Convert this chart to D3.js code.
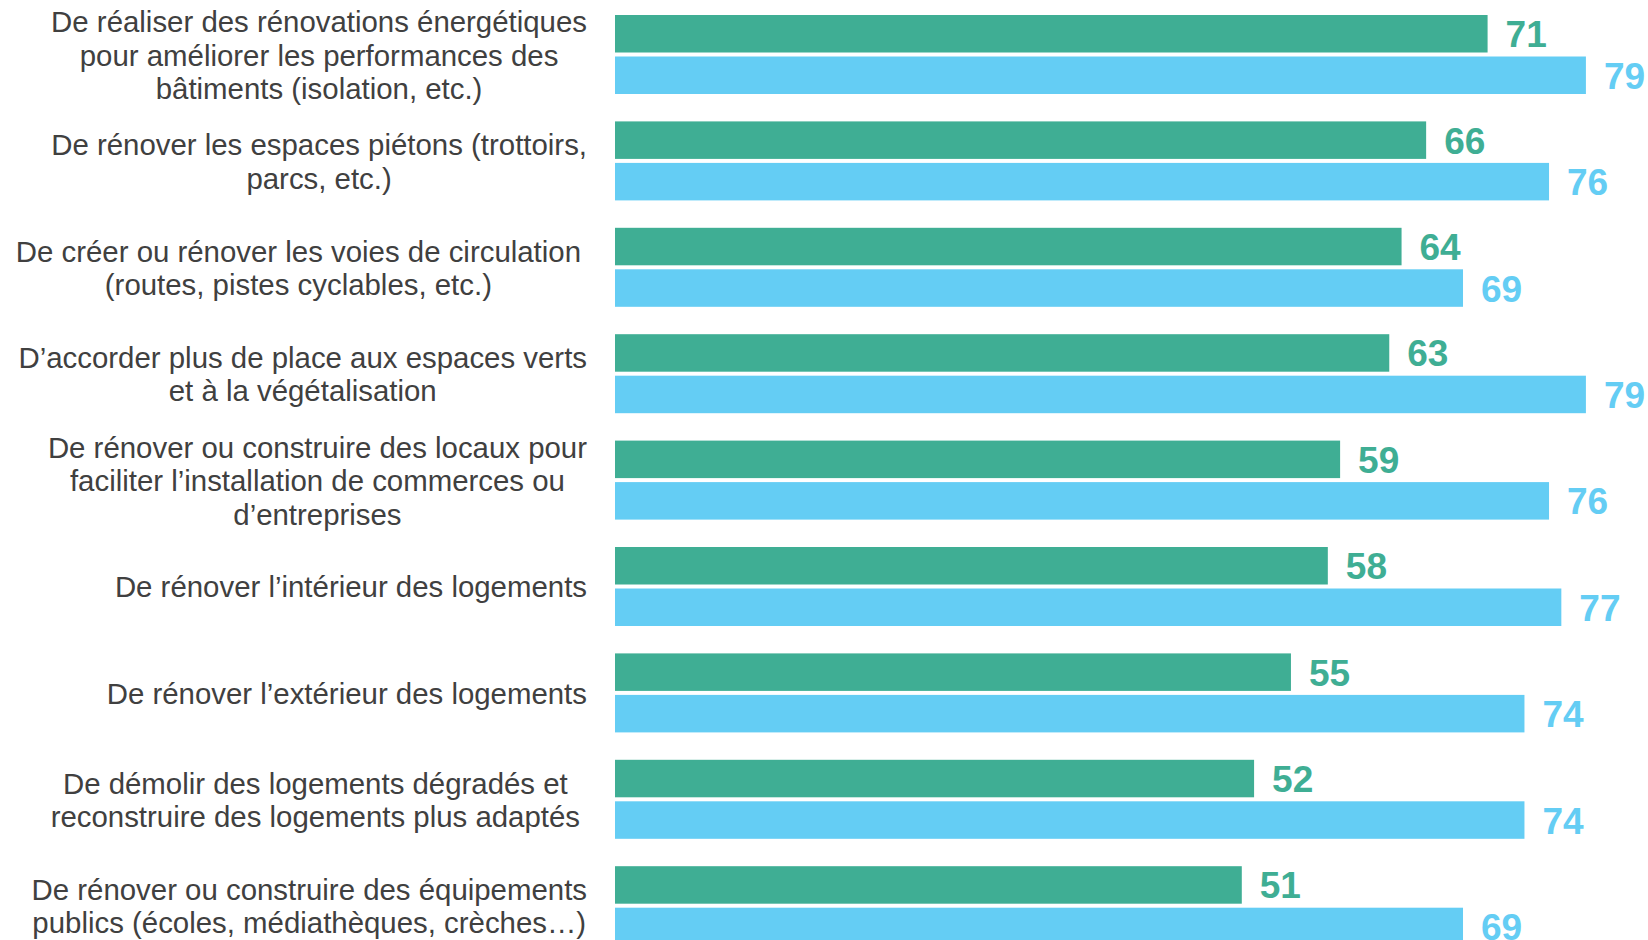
<!DOCTYPE html>
<html>
<head>
<meta charset="utf-8">
<script src="https://cdn.jsdelivr.net/npm/d3@7"></script>
<style>
    body { margin: 0; background: #ffffff; }
</style>
</head>
<body>
<div id="chart"></div>
<script>
"use strict"

// categories (line breaks as in the original slide)
let categories = [
    "De réaliser des rénovations énergétiques\npour améliorer les performances des\nbâtiments (isolation, etc.)",
    "De rénover les espaces piétons (trottoirs,\nparcs, etc.)",
    "De créer ou rénover les voies de circulation\n(routes, pistes cyclables, etc.)",
    "D’accorder plus de place aux espaces verts\net à la végétalisation",
    "De rénover ou construire des locaux pour\nfaciliter l’installation de commerces ou\nd’entreprises",
    "De rénover l’intérieur des logements",
    "De rénover l’extérieur des logements",
    "De démolir des logements dégradés et\nreconstruire des logements plus adaptés",
    "De rénover ou construire des équipements\npublics (écoles, médiathèques, crèches…)"
];

let series1 = [71, 66, 64, 63, 59, 58, 55, 52, 51];
let series2 = [79, 76, 69, 79, 76, 77, 74, 74, 69];

let seriesKeys = ["series1", "series2"];
let colors = { series1: "#3fae94", series2: "#64cdf4" };

let width = 1648,
    height = 940;

let svg = d3.select("#chart")
    .append("svg")
    .attr("width", width)
    .attr("height", height)
    .style("display", "block");

svg.append("rect")
    .attr("width", width)
    .attr("height", height)
    .attr("fill", "#ffffff");

// scales
let x = d3.scaleLinear()
    .domain([0, 100])
    .range([615, 615 + 1229]);

let y = d3.scaleBand()
    .domain(d3.range(categories.length))
    .range([15, 15 + 8 * 106.4 + 79])
    .paddingInner(0.2575)
    .paddingOuter(0);

let ySub = d3.scaleBand()
    .domain(seriesKeys)
    .range([0, y.bandwidth()])
    .paddingInner(0.0964);

// build rows from the arrays
let rows = categories.map(function (c, i) {
    return {
        index: i,
        label: c,
        values: [
            { key: "series1", value: series1[i] },
            { key: "series2", value: series2[i] }
        ]
    };
});

let groups = svg.selectAll("g.group")
    .data(rows)
    .enter()
    .append("g")
    .attr("class", "group")
    .attr("transform", function (d) {
        return "translate(0," + y(d.index) + ")";
    });

// bars
groups.selectAll("rect.bar")
    .data(function (d) { return d.values; })
    .enter()
    .append("rect")
    .attr("class", "bar")
    .attr("x", x(0))
    .attr("y", function (d) { return ySub(d.key); })
    .attr("width", function (d) { return x(d.value) - x(0); })
    .attr("height", ySub.bandwidth())
    .attr("fill", function (d) { return colors[d.key]; });

// value labels
groups.selectAll("text.value")
    .data(function (d) { return d.values; })
    .enter()
    .append("text")
    .attr("class", "value")
    .attr("x", function (d) { return x(d.value) + 18; })
    .attr("y", function (d) { return ySub(d.key) + ySub.bandwidth() / 2 + 1; })
    .attr("dominant-baseline", "central")
    .style("font-family", "'Liberation Sans', Arial, sans-serif")
    .style("font-weight", "bold")
    .style("font-size", "37px")
    .attr("fill", function (d) { return colors[d.key]; })
    .text(function (d) { return d.value; });

// category labels: lines centred, block right-aligned before the bars
let lineHeight = 33.5;
let rightEdge = 587;
// a couple of text boxes sit a bit more to the left on the slide
let boxShift = { 2: -6, 7: -7 };

groups.each(function (d) {
    let g = d3.select(this);
    let lines = d.label.split("\n");
    let cy = y.bandwidth() / 2;
    let t = g.append("text")
        .attr("dominant-baseline", "central")
        .attr("text-anchor", "middle")
        .style("font-family", "'Liberation Sans', Arial, sans-serif")
        .style("font-size", "29.4px")
        .attr("fill", "#404040");
    lines.forEach(function (line, k) {
        t.append("tspan")
            .attr("y", cy + (k - (lines.length - 1) / 2) * lineHeight)
            .text(line);
    });
    // widest line decides the centre of the block
    let maxW = 0;
    t.selectAll("tspan").each(function () {
        maxW = Math.max(maxW, this.getComputedTextLength());
    });
    let right = rightEdge + (boxShift[d.index] || 0);
    t.selectAll("tspan").attr("x", right - maxW / 2);
});
</script>
</body>
</html>
